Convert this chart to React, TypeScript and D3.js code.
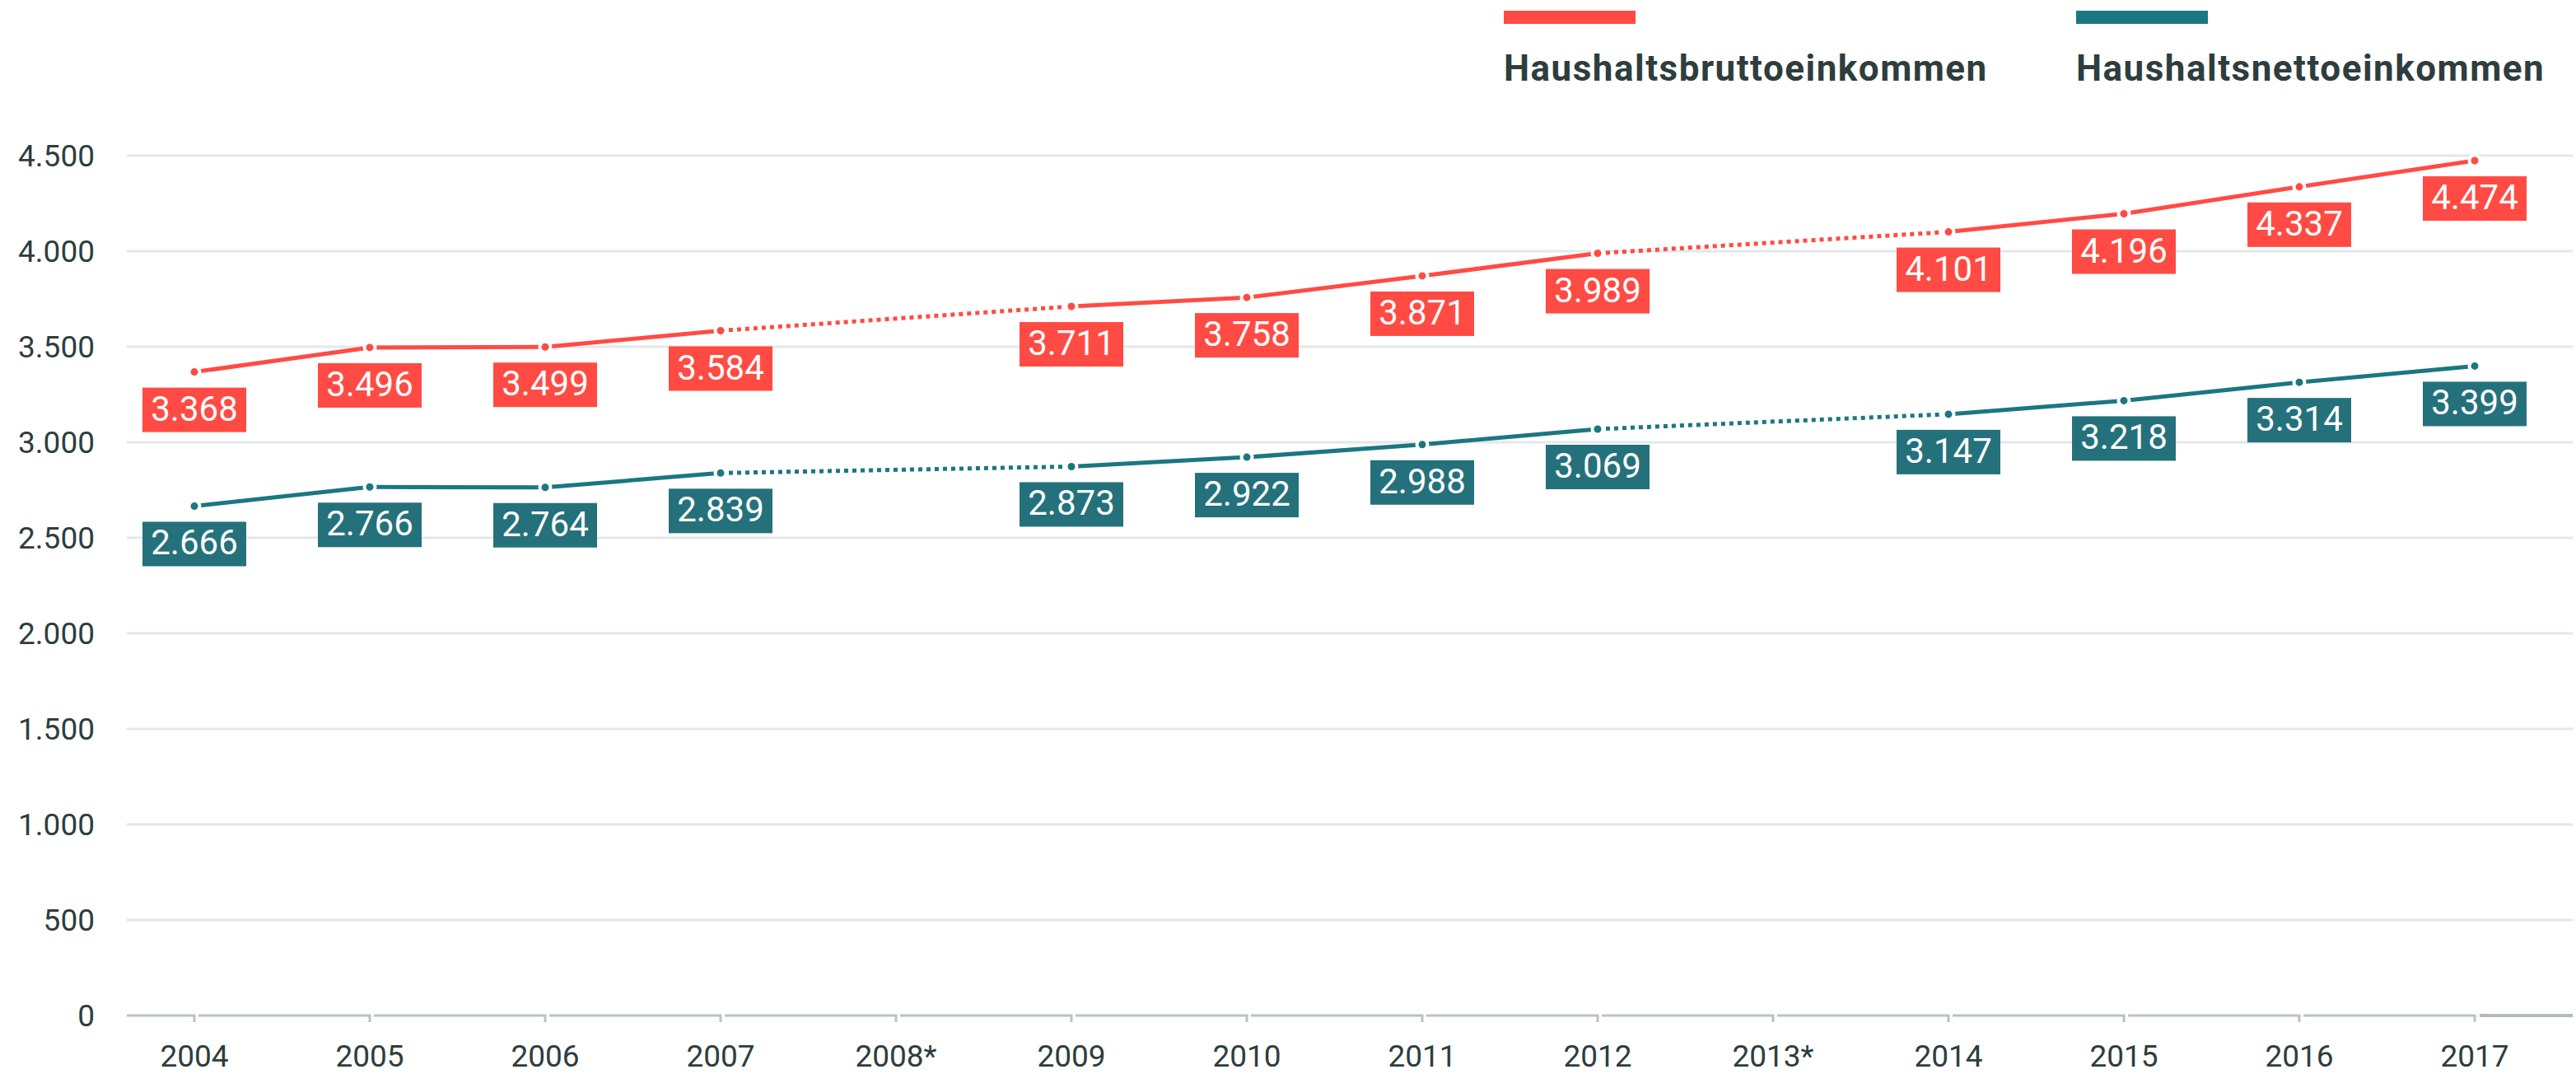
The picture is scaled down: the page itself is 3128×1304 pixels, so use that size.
import React, { useEffect } from 'react';
import * as d3 from 'd3';

const years = ['2004', '2005', '2006', '2007', '2008*', '2009', '2010', '2011', '2012', '2013*', '2014', '2015', '2016', '2017'];
const brutto: (number | null)[] = [3368, 3496, 3499, 3584, null, 3711, 3758, 3871, 3989, null, 4101, 4196, 4337, 4474];
const netto: (number | null)[] = [2666, 2766, 2764, 2839, null, 2873, 2922, 2988, 3069, null, 3147, 3218, 3314, 3399];
const yTicks = [0, 500, 1000, 1500, 2000, 2500, 3000, 3500, 4000, 4500];
const seriesNames = ['Haushaltsbruttoeinkommen', 'Haushaltsnettoeinkommen'];

const W = 3128;
const H = 1304;
const RED = '#ff4b44';
const TEAL_LINE = '#1b7781';
const TEAL_BOX = '#24717b';
const TEXT = '#2e3d3e';
const FONT = 'Roboto, sans-serif';

const de = d3.formatLocale({ decimal: ',', thousands: '.', grouping: [3], currency: ['', '€'] });
const fmt = de.format(',');

const x = d3.scalePoint<string>().domain(years).range([236, 3005]);
const y = d3.scaleLinear().domain([0, 4500]).range([1233, 189]);

// split a series into solid / dotted pieces (dotted where a year is missing)
const segments = (vals: (number | null)[]) => {
  const idx = vals.map((v, i) => (v == null ? -1 : i)).filter(i => i >= 0);
  const out: { a: number; b: number; dotted: boolean }[] = [];
  for (let k = 0; k < idx.length - 1; k++) {
    out.push({ a: idx[k], b: idx[k + 1], dotted: idx[k + 1] - idx[k] > 1 });
  }
  return out;
};

const line = d3.line<[number, number]>().x(d => d[0]).y(d => d[1]);

const Series: React.FC<{ vals: (number | null)[]; lineColor: string; boxColor: string }> = ({ vals, lineColor, boxColor }) => {
  const segs = segments(vals);
  return (
    <g>
      {segs.map((s, i) => (
        <path
          key={i}
          d={line([[x(years[s.a])!, y(vals[s.a]!)], [x(years[s.b])!, y(vals[s.b]!)]]) || ''}
          fill="none"
          stroke={lineColor}
          strokeWidth={5}
          strokeDasharray={s.dotted ? '5 5' : undefined}
        />
      ))}
      {vals.map((v, i) =>
        v == null ? null : (
          <circle key={'c' + i} cx={x(years[i])} cy={y(v)} r={6.5} fill={lineColor} stroke="#fff" strokeWidth={4} />
        )
      )}
      {vals.map((v, i) =>
        v == null ? null : (
          <g key={'l' + i} transform={`translate(${x(years[i])},${y(v) + 19})`}>
            <rect x={-63} y={0} width={126} height={54} fill={boxColor} />
            <text x={0} y={40} textAnchor="middle" fill="#fff" fontSize={42} fontFamily={FONT}>
              {fmt(v)}
            </text>
          </g>
        )
      )}
    </g>
  );
};

const App: React.FC = () => {
  useEffect(() => {
    document.body.style.margin = '0';
  }, []);

  const y0 = y(0);
  const xs = years.map(yr => x(yr)!);

  return (
    <svg width={W} height={H} style={{ display: 'block', background: '#fff' }}>
      {/* legend */}
      <rect x={1826} y={13} width={160} height={16} fill={RED} />
      <text x={1826} y={98} fontSize={44} fontWeight="bold" letterSpacing={1.5} fill={TEXT} fontFamily={FONT}>
        {seriesNames[0]}
      </text>
      <rect x={2521} y={13} width={160} height={16} fill={TEAL_LINE} />
      <text x={2521} y={98} fontSize={44} fontWeight="bold" letterSpacing={1.5} fill={TEXT} fontFamily={FONT}>
        {seriesNames[1]}
      </text>

      {/* grid + y labels */}
      {yTicks.map(t => (
        <g key={t}>
          {t > 0 && <line x1={154} x2={3124} y1={y(t)} y2={y(t)} stroke="#e3e8e8" strokeWidth={3} />}
          <text x={115} y={y(t)} dy="0.36em" textAnchor="end" fontSize={37} fill={TEXT} fontFamily={FONT}>
            {fmt(t)}
          </text>
        </g>
      ))}

      {/* x axis: bracket segments ending in a tick */}
      {xs.map((xv, i) => {
        const start = i === 0 ? 154 : xs[i - 1] + 5;
        return (
          <path
            key={'ax' + i}
            d={`M${start},${y0}H${xv}V${y0 + 8}`}
            fill="none"
            stroke="#b8c3c3"
            strokeWidth={3}
          />
        );
      })}
      <line x1={xs[xs.length - 1] + 6} x2={3124} y1={y0} y2={y0} stroke="#b3bcbc" strokeWidth={4} />
      {years.map(yr => (
        <text key={yr} x={x(yr)} y={1295} textAnchor="middle" fontSize={37} fill={TEXT} fontFamily={FONT}>
          {yr}
        </text>
      ))}

      <Series vals={brutto} lineColor={RED} boxColor={RED} />
      <Series vals={netto} lineColor={TEAL_LINE} boxColor={TEAL_BOX} />
    </svg>
  );
};

export default App;
